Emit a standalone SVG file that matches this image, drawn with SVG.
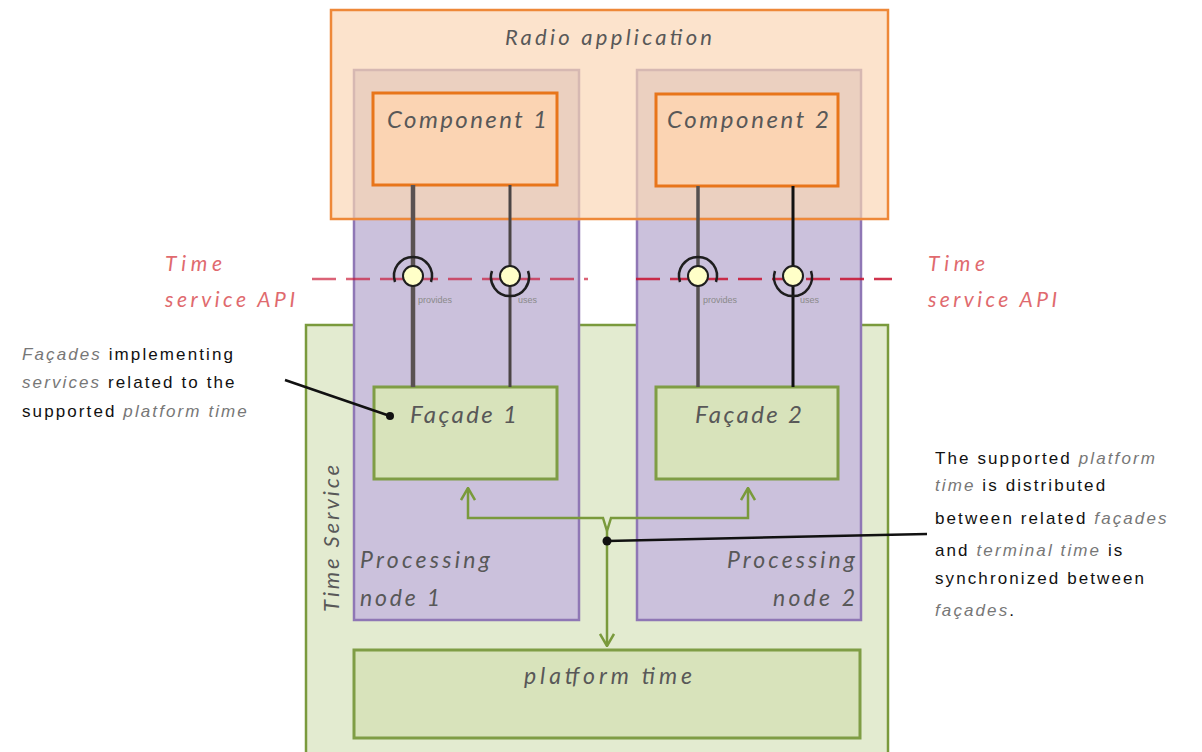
<svg xmlns="http://www.w3.org/2000/svg" width="1202" height="752" viewBox="0 0 1202 752">
  <style>
    .label { font-family: Lato, "Open Sans", "Liberation Sans", sans-serif; font-style: italic; fill: #585858; }
    .api { font-family: Lato, "Open Sans", "Liberation Sans", sans-serif; font-style: italic; fill: #e06a6e; font-size: 21px; }
    .note { font-family: "Liberation Sans", "DejaVu Sans", sans-serif; fill: #111; font-size: 17px; letter-spacing: 2.1px; }
    .note .em { font-style: italic; fill: #777; }
    .tag { font-family: "Liberation Sans", sans-serif; fill: #8a8a8a; font-size: 9px; }
    .node { fill: #cbc1dc; stroke: #8f77b5; stroke-width: 2.5; }
    .node-top { fill: #ebd0c0; stroke: #d6b8b2; stroke-width: 2.5; }
    .comp { fill: #fbd4b3; stroke: #e8751a; stroke-width: 3; }
    .facade { fill: #d8e3bb; stroke: #7f9d45; stroke-width: 3; }
    .wire { fill: none; stroke-linecap: butt; }
    .ball { fill: #ffffc8; stroke: #1e1e1e; stroke-width: 2; }
    .socket { fill: none; stroke: #1e1e1e; stroke-width: 2.5; }
    .sync { fill: none; stroke: #7a9a3c; stroke-width: 2.5; }
    .api-line { fill: none; stroke: #c8102e; stroke-width: 2.5; stroke-dasharray: 24 10; }
    .pointer { fill: none; stroke: #111; stroke-width: 2.5; }
  </style>
  <defs>
    <marker id="open-arrow" viewBox="0 0 14 16" refX="13" refY="8" markerWidth="14" markerHeight="16" markerUnits="userSpaceOnUse" orient="auto">
      <path d="M1,1 L13,8 L1,15" fill="none" stroke="#7a9a3c" stroke-width="2.5"/>
    </marker>
  </defs>

  <rect width="1202" height="752" fill="#ffffff"/>

  <!-- Time Service container -->
  <g id="time-service">
    <rect x="306" y="325" width="582" height="440" fill="#e3ebd0" stroke="#7a9a3c" stroke-width="2.5"/>
    <text class="label" font-size="22" transform="translate(339,612) rotate(-90)" textLength="147" lengthAdjust="spacing">Time Service</text>
  </g>

  <!-- Processing nodes -->
  <g id="processing-node-1">
    <rect class="node" x="354" y="70" width="225" height="550"/>
    <text class="label" font-size="23" x="360" y="568" textLength="130" lengthAdjust="spacing">Processing</text>
    <text class="label" font-size="23" x="360" y="606" textLength="80" lengthAdjust="spacing">node 1</text>
  </g>
  <g id="processing-node-2">
    <rect class="node" x="637" y="70" width="224" height="550"/>
    <text class="label" font-size="23" x="727" y="568" textLength="128" lengthAdjust="spacing">Processing</text>
    <text class="label" font-size="23" x="773" y="606" textLength="82" lengthAdjust="spacing">node 2</text>
  </g>

  <!-- Radio application container, tinting the node tops it covers -->
  <g id="radio-application">
    <rect x="331" y="10" width="557" height="209" fill="#fce3cc"/>
    <rect class="node-top" x="354" y="70" width="225" height="149"/>
    <rect class="node-top" x="637" y="70" width="224" height="149"/>
    <rect x="331" y="10" width="557" height="209" fill="none" stroke="#ee8838" stroke-width="2.5"/>
    <text class="label" font-size="22" x="505" y="45" textLength="207" lengthAdjust="spacing">Radio application</text>
  </g>

  <g id="component-1">
    <rect class="comp" x="373" y="93" width="184" height="92"/>
    <text class="label" font-size="24" x="387" y="128" textLength="160" lengthAdjust="spacing">Component 1</text>
  </g>
  <g id="component-2">
    <rect class="comp" x="656" y="94" width="182" height="92"/>
    <text class="label" font-size="24" x="667" y="128" textLength="162" lengthAdjust="spacing">Component 2</text>
  </g>

  <g id="facade-1">
    <rect class="facade" x="374" y="387" width="183" height="92"/>
    <text class="label" font-size="24" x="410" y="423" textLength="107" lengthAdjust="spacing">Façade 1</text>
  </g>
  <g id="facade-2">
    <rect class="facade" x="656" y="387" width="182" height="92"/>
    <text class="label" font-size="24" x="695" y="423" textLength="107" lengthAdjust="spacing">Façade 2</text>
  </g>

  <g id="platform-time">
    <rect class="facade" x="354" y="650" width="506" height="88"/>
    <text class="label" font-size="23" x="524" y="684" textLength="168" lengthAdjust="spacing">platform time</text>
  </g>

  <!-- Connectors -->
  <g id="connectors">
    <!-- component to façade wires -->
    <line class="wire" x1="413" y1="185" x2="413" y2="387" stroke="#5a5252" stroke-width="4.5"/>
    <line class="wire" x1="510" y1="185" x2="510" y2="387" stroke="#4a4444" stroke-width="3"/>
    <line class="wire" x1="698" y1="186" x2="698" y2="387" stroke="#555050" stroke-width="3.5"/>
    <line class="wire" x1="793" y1="186" x2="793" y2="387" stroke="#111" stroke-width="3"/>

    <!-- time service API boundary -->
    <line class="api-line" x1="312" y1="279" x2="588" y2="279" opacity="0.65"/>
    <line class="api-line" x1="636" y1="279" x2="892" y2="279" opacity="0.85"/>

    <!-- provides / uses interfaces -->
    <path class="socket" d="M395,282 A19,19 0 1 1 431,282"/>
    <circle class="ball" cx="413" cy="276" r="10"/>
    <path class="socket" d="M492,271 A19,19 0 1 0 528,271"/>
    <circle class="ball" cx="510" cy="276" r="10"/>
    <path class="socket" d="M680,282 A19,19 0 1 1 716,282"/>
    <circle class="ball" cx="698" cy="276" r="10"/>
    <path class="socket" d="M775,271 A19,19 0 1 0 811,271"/>
    <circle class="ball" cx="793" cy="276" r="10"/>
    <text class="tag" x="418" y="303">provides</text>
    <text class="tag" x="518" y="303">uses</text>
    <text class="tag" x="703" y="303">provides</text>
    <text class="tag" x="800" y="303">uses</text>

    <!-- platform time distribution -->
    <path class="sync" d="M607,531 L603,518 L468,518 L468,488" marker-end="url(#open-arrow)"/>
    <path class="sync" d="M607,531 L611,518 L748,518 L748,488" marker-end="url(#open-arrow)"/>
    <path class="sync" d="M607,531 L607,646" marker-end="url(#open-arrow)"/>

    <!-- annotation pointers -->
    <line class="pointer" x1="285" y1="380" x2="390" y2="416"/>
    <circle cx="390" cy="416" r="4" fill="#111"/>
    <line class="pointer" x1="607" y1="541" x2="927" y2="534"/>
    <circle cx="607" cy="541" r="4.5" fill="#111"/>
  </g>

  <!-- API labels -->
  <g id="api-labels">
    <text class="api" x="165" y="271" textLength="57" lengthAdjust="spacing">Time</text>
    <text class="api" x="165" y="307" textLength="130" lengthAdjust="spacing">service API</text>
    <text class="api" x="928" y="271" textLength="57" lengthAdjust="spacing">Time</text>
    <text class="api" x="928" y="307" textLength="129" lengthAdjust="spacing">service API</text>
  </g>

  <!-- Annotations -->
  <g id="note-facades" class="note">
    <text x="22" y="360"><tspan class="em">Façades</tspan> implementing</text>
    <text x="22" y="388"><tspan class="em">services</tspan> related to the</text>
    <text x="22" y="417">supported <tspan class="em">platform time</tspan></text>
  </g>
  <g id="note-distribution" class="note">
    <text x="935" y="464">The supported <tspan class="em">platform</tspan></text>
    <text x="935" y="491"><tspan class="em">time</tspan> is distributed</text>
    <text x="935" y="524">between related <tspan class="em">façades</tspan></text>
    <text x="935" y="556">and <tspan class="em">terminal time</tspan> is</text>
    <text x="935" y="584">synchronized between</text>
    <text x="935" y="616"><tspan class="em">façades</tspan>.</text>
  </g>
</svg>
